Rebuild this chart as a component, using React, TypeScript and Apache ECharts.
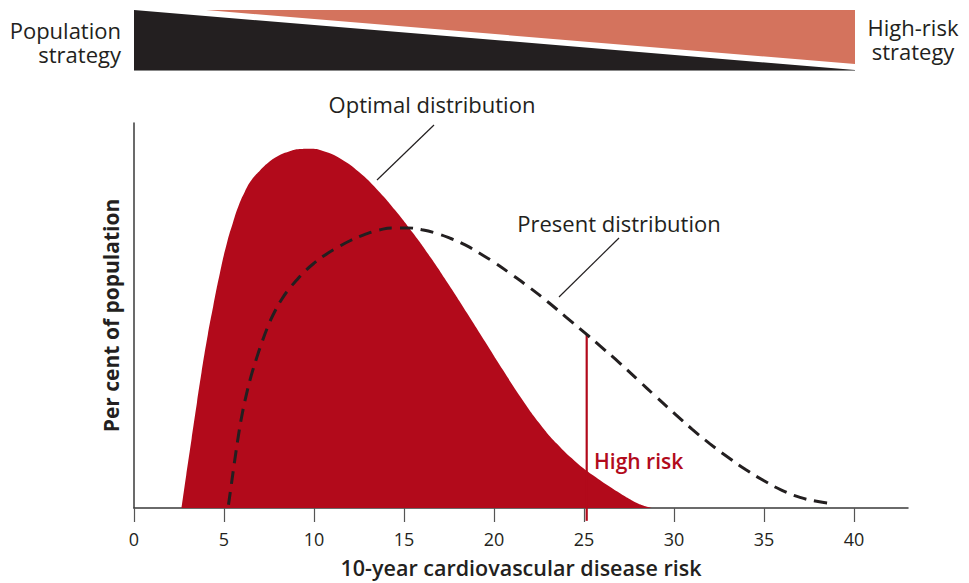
import React, { useEffect, useRef } from "react";
import * as echarts from "echarts";

// x: 10-year cardiovascular disease risk (%); y: per cent of population (relative)
const optimalX = [2.64, 2.9, 3.2, 3.5, 3.75, 4.1, 4.4, 4.77, 5.18, 5.5, 5.79, 6.15, 6.53, 7.0, 7.45, 8.0, 8.65, 9.2, 9.76, 10.5, 11.5, 12.5, 13.5, 14.5, 15.5, 16.5, 17.5, 18.5, 19.5, 20.5, 21.5, 22.5, 23.5, 24.5, 25.5, 26.5, 27.0, 27.5, 28.0, 28.5, 28.8];
const optimalY = [0, 1.02, 2.16, 3.3, 4.22, 5.4, 6.29, 7.32, 8.3, 8.9, 9.39, 9.85, 10.22, 10.52, 10.76, 10.97, 11.12, 11.19, 11.2, 11.13, 10.88, 10.47, 9.93, 9.29, 8.57, 7.79, 6.95, 6.08, 5.19, 4.3, 3.44, 2.66, 2.0, 1.46, 1.02, 0.64, 0.46, 0.29, 0.14, 0.04, 0];

const presentX = [5.25, 5.4, 5.6, 5.8, 6.0, 6.25, 6.5, 6.8, 7.1, 7.45, 7.8, 8.2, 8.6, 9.0, 9.5, 10.0, 10.6, 11.3, 12.0, 12.8, 13.6, 14.4, 15.2, 16.0, 16.8, 17.6, 18.4, 19.2, 20.0, 21.0, 22.0, 23.0, 24.0, 25.15, 26.0, 27.0, 28.0, 29.0, 30.0, 31.0, 32.0, 33.0, 34.0, 35.0, 36.0, 37.0, 38.0, 38.6];
const presentY = [0.1, 0.7, 1.5, 2.25, 2.9, 3.55, 4.1, 4.65, 5.15, 5.67, 6.1, 6.5, 6.82, 7.08, 7.38, 7.63, 7.88, 8.12, 8.33, 8.52, 8.66, 8.73, 8.73, 8.67, 8.56, 8.4, 8.2, 7.94, 7.66, 7.27, 6.86, 6.42, 5.95, 5.41, 5.0, 4.51, 3.99, 3.47, 2.96, 2.46, 2.0, 1.58, 1.19, 0.85, 0.55, 0.33, 0.2, 0.15];

const highRiskX = 25.15;
const highRiskTop = 5.41;
const highRiskBottom = -0.4;

const xTicks = [0, 5, 10, 15, 20, 25, 30, 35, 40];
const xMin = 0;
const xMax = 43;
const yMax = 12;

const INK = "#231f20";
const RED = "#b20a1b";
const ORANGE = "#d4735d";
const FONT = "'Open Sans', 'Noto Sans', sans-serif";

export default function App() {
  const ref = useRef<HTMLDivElement>(null);
  useEffect(() => {
    if (!ref.current) return;
    const chart = echarts.init(ref.current, null, { renderer: "svg" });
    const zip = (xs: number[], ys: number[]) => xs.map((x, i) => [x, ys[i]]);
    const txt = (x: number, y: number, text: string, align: string, extra: any = {}) => ({
      type: "text",
      x,
      y,
      style: { text, align, verticalAlign: "middle", fontSize: 22, lineHeight: 24, fill: INK, fontFamily: FONT, ...extra },
    });
    chart.setOption({
      animation: false,
      textStyle: { fontFamily: FONT, color: INK },
      grid: { left: 134, right: 61, top: 123, bottom: 73 },
      xAxis: {
        type: "value",
        min: xMin,
        max: xMax,
        interval: 5,
        name: "10-year cardiovascular disease risk",
        nameLocation: "middle",
        nameGap: 48,
        nameTextStyle: { fontSize: 21.5, fontWeight: 600, color: INK, fontFamily: FONT },
        axisLine: { lineStyle: { color: "#3a3a3a", width: 1.5 } },
        axisTick: { show: true, length: 14, lineStyle: { color: "#555", width: 1.2 }, customValues: xTicks },
        axisLabel: { fontSize: 18, color: INK, margin: 22, fontFamily: FONT, customValues: xTicks },
        splitLine: { show: false },
      },
      yAxis: {
        type: "value",
        min: 0,
        max: yMax,
        name: "Per cent of population",
        nameLocation: "middle",
        nameRotate: 90,
        nameGap: 13,
        nameTextStyle: { fontSize: 21, fontWeight: 700, color: INK, fontFamily: FONT },
        axisLine: { show: true, lineStyle: { color: "#3a3a3a", width: 1.5 } },
        axisTick: { show: false },
        axisLabel: { show: false },
        splitLine: { show: false },
      },
      series: [
        {
          type: "line",
          name: "Optimal distribution",
          data: zip(optimalX, optimalY),
          smooth: 0.5,
          symbol: "none",
          lineStyle: { width: 0 },
          areaStyle: { color: RED, opacity: 1 },
          z: 2,
        },
        {
          type: "line",
          name: "Present distribution",
          data: zip(presentX, presentY),
          smooth: 0.5,
          symbol: "none",
          lineStyle: { color: INK, width: 3, type: [13, 8] },
          z: 4,
        },
        {
          type: "line",
          name: "High risk",
          data: [[highRiskX, highRiskBottom], [highRiskX, highRiskTop]],
          symbol: "none",
          clip: false,
          lineStyle: { color: RED, width: 2.2 },
          z: 3,
        },
      ],
      graphic: [
        // top strategy banner
        {
          type: "polygon",
          shape: { points: [[134, 10], [134, 70], [855, 70]] },
          style: { fill: INK },
        },
        {
          type: "line",
          shape: { x1: 134, y1: 70.5, x2: 855, y2: 70.5 },
          style: { stroke: "#888", lineWidth: 1 },
        },
        {
          type: "polygon",
          shape: { points: [[206, 10], [855, 10], [855, 64]] },
          style: { fill: ORANGE },
        },
        txt(121, 42, "Population\nstrategy", "right"),
        txt(913, 39, "High-risk\nstrategy", "center"),
        // annotations
        txt(432, 104, "Optimal distribution", "center"),
        {
          type: "line",
          shape: { x1: 377, y1: 180, x2: 434, y2: 125 },
          style: { stroke: INK, lineWidth: 1.2 },
        },
        txt(619, 223, "Present distribution", "center"),
        {
          type: "line",
          shape: { x1: 559, y1: 297, x2: 619, y2: 238 },
          style: { stroke: INK, lineWidth: 1.2 },
        },
        txt(594, 461, "High risk", "left", { fontSize: 21, fontWeight: 600, fill: RED }),
      ],
    });
    return () => chart.dispose();
  }, []);
  return (
    <div
      ref={ref}
      style={{ position: "fixed", left: 0, top: 0, width: 969, height: 583, background: "#fff" }}
    />
  );
}
